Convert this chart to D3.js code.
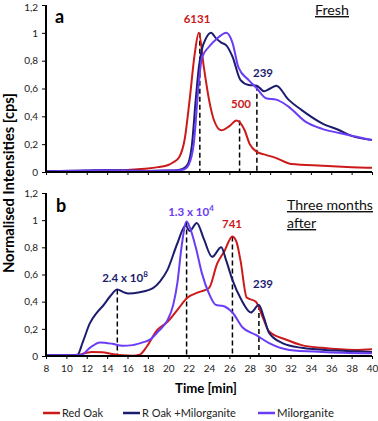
<!DOCTYPE html>
<html><head><meta charset="utf-8">
<script src="https://cdn.jsdelivr.net/npm/d3@7"></script>
<style>
body{margin:0;background:#fff;}
svg{display:block;font-family:Lato,"Open Sans",sans-serif;}
</style></head>
<body><svg id="c" width="378" height="421"></svg>
<script>
// ---- data ----
const xTicks = [8,10,12,14,16,18,20,22,24,26,28,30,32,34,36,38,40];
const yTicks = [0,0.2,0.4,0.6,0.8,1,1.2];
const seriesNames = ["Red Oak","R Oak +Milorganite","Milorganite"];

// Panel a (Fresh)
const redA_t = [8,10,12,14,16,17,18,19,20,20.5,21.1,21.6,22.1,22.6,23.0,23.5,24.0,24.5,25.2,26.0,26.7,27.5,28.0,28.7,29.5,30.6,32.1,35.1,38,40];
const redA_v = [0.005,0.005,0.008,0.01,0.015,0.02,0.025,0.035,0.05,0.07,0.11,0.23,0.52,0.85,1.0,0.75,0.52,0.37,0.30,0.33,0.37,0.30,0.20,0.145,0.125,0.10,0.057,0.045,0.035,0.03];
const navyA_t = [8,12,14,16,18,20,21,21.6,22.0,22.3,22.7,23.0,23.3,23.7,24.2,24.7,25.2,25.7,26.3,27.1,27.9,28.7,29.4,30.0,30.6,31.8,33.1,35.1,36.8,38.0,40];
const navyA_v = [0.005,0.01,0.015,0.01,0.008,0.01,0.015,0.03,0.07,0.18,0.52,0.75,0.88,0.96,1.0,0.96,0.93,0.91,0.83,0.66,0.625,0.62,0.58,0.60,0.62,0.52,0.445,0.35,0.30,0.26,0.23];
const purpA_t = [8,12,14,16,18,20,21,21.6,22.0,22.5,23.0,23.3,24.0,24.8,25.7,26.3,26.9,27.9,28.7,29.6,30.6,31.8,33.5,35.1,36.8,38,40];
const purpA_v = [0.005,0.01,0.012,0.01,0.008,0.01,0.012,0.02,0.05,0.2,0.64,0.82,0.90,0.96,1.0,0.93,0.75,0.66,0.60,0.53,0.52,0.47,0.36,0.31,0.28,0.26,0.23];

// Panel b (Three months after)
const redB_t = [8,11,11.8,12.5,13.5,14.5,15.5,16.5,17.2,17.9,18.9,19.9,20.9,21.9,23.0,24.0,24.8,25.5,26.3,26.7,27.1,27.7,28.6,29.2,29.9,31.6,33.1,35.1,38.4,40];
const redB_v = [0.005,0.005,0.02,0.03,0.028,0.015,0.005,0.002,0.01,0.07,0.19,0.25,0.34,0.43,0.47,0.50,0.68,0.77,0.88,0.84,0.70,0.43,0.40,0.30,0.18,0.12,0.08,0.06,0.045,0.05];
const navyB_t = [8,10,11.1,11.6,12.3,13.0,13.6,14.3,15.0,15.6,16.1,17.2,18.5,19.2,19.9,20.9,21.7,22.1,22.8,23.5,24.3,25.2,25.7,26.3,27.2,28.1,28.9,29.4,29.9,31.2,33.1,36.4,40];
const navyB_v = [0.005,0.005,0.01,0.1,0.24,0.32,0.37,0.44,0.49,0.47,0.46,0.47,0.50,0.55,0.63,0.83,0.96,0.92,0.98,0.86,0.73,0.80,0.70,0.56,0.41,0.32,0.375,0.28,0.17,0.095,0.06,0.04,0.03];
const purpB_t = [8,10,11.5,12.3,13.3,14.5,15.5,16.5,17.5,18.2,19.0,19.9,20.5,20.9,21.3,21.8,22.1,22.7,23.3,24.0,24.7,25.3,26.3,27.3,28.6,29.9,31.9,35.1,40];
const purpB_v = [0.005,0.005,0.01,0.06,0.10,0.09,0.075,0.08,0.10,0.12,0.18,0.26,0.38,0.54,0.80,0.99,0.95,0.80,0.61,0.46,0.375,0.37,0.32,0.21,0.155,0.095,0.045,0.03,0.02];

// peak markers [time, value]
const peaksA = [[23.1,1.0],[27.0,0.37],[28.7,0.62]];
const peaksB = [[15.0,0.49],[21.8,0.99],[26.3,0.88],[28.9,0.375]];

// ---- drawing ----
const colors = ["#cc1a1a","#1c1c6e","#6a3cf5"];
const svg = d3.select("#c");
const x = d3.scaleLinear().domain([8,40]).range([46,372]);
const yA = d3.scaleLinear().domain([0,1.2]).range([172,5]);
const yB = d3.scaleLinear().domain([0,1.2]).range([356,193]);
const fmt = d => d===0 ? "0" : (d===1 ? "1" : d3.format(".1f")(d).replace(".",","));

function fit(sel, w){
  const n = sel.node();
  const cur = parseFloat(sel.attr("font-size"));
  const len = n.getComputedTextLength();
  if(len>0) sel.attr("font-size", (cur*w/len).toFixed(2));
  return sel;
}

function panel(y, showX, series, peaks){
  const g = svg.append("g");
  peaks.forEach(p=>{
    g.append("line").attr("x1",x(p[0])).attr("x2",x(p[0]))
     .attr("y1",y(p[1])).attr("y2",y(0))
     .attr("stroke","#000").attr("stroke-width",1.5).attr("stroke-dasharray","5,3");
  });
  const line = d3.line().x(d=>x(d[0])).y(d=>y(d[1])).curve(d3.curveMonotoneX);
  series.forEach((s,i)=>{
    const data = s[0].map((t,k)=>[t,s[1][k]]);
    g.append("path").datum(data).attr("d",line).attr("fill","none")
     .attr("stroke",colors[i]).attr("stroke-width",2);
  });
  const ya = g.append("g").attr("transform",`translate(${x(8)},0)`)
    .call(d3.axisLeft(y).tickValues(yTicks).tickFormat(fmt).tickSize(4).tickPadding(4));
  const xa = g.append("g").attr("transform",`translate(0,${y(0)})`)
    .call(d3.axisBottom(x).tickValues(xTicks).tickSize(3).tickPadding(6).tickFormat(showX? d=>d : ()=>""));
  [ya,xa].forEach(a=>{
    a.select(".domain").attr("stroke","#000").attr("stroke-width",2);
    a.selectAll(".tick line").attr("stroke","#000").attr("stroke-width",1);
    a.selectAll("text").attr("font-size",10).attr("fill","#222").attr("font-family","Lato,sans-serif");
  });
  xa.select(".domain").attr("d",`M${x(8)},0H${x(40)}`);
  ya.select(".domain").attr("d",`M0,${y(0)}V${y(1.2)}`);
  // keep the topmost tick label inside the picture
  ya.selectAll(".tick text").filter(d=>d===1.2 && y(1.2)<8).attr("dy","0.5em");
}

panel(yA,false,[[redA_t,redA_v],[navyA_t,navyA_v],[purpA_t,purpA_v]],peaksA);
panel(yB,true,[[redB_t,redB_v],[navyB_t,navyB_v],[purpB_t,purpB_v]],peaksB);

// panel letters
svg.append("text").attr("x",55).attr("y",23).text("a").attr("font-size",18).attr("font-weight","bold");
svg.append("text").attr("x",56).attr("y",212).text("b").attr("font-size",18).attr("font-weight","bold");

// titles
function ulText(tx,ty,str,w){
  const t = svg.append("text").attr("x",tx).attr("y",ty).text(str)
   .attr("font-size",15).attr("fill","#111").attr("text-decoration","underline");
  return fit(t,w);
}
ulText(315,15,"Fresh",34);
const tm = ulText(287,210,"Three months",86);
svg.append("text").attr("x",287).attr("y",228).text("after")
   .attr("font-size",tm.attr("font-size")).attr("fill","#111").attr("text-decoration","underline");

// peak labels
function lab(tx,ty,str,col,sup){
  const t = svg.append("text").attr("x",tx).attr("y",ty).attr("text-anchor","middle")
   .attr("font-size",11.5).attr("font-weight","bold").attr("fill",col).text(str);
  if(sup){ t.append("tspan").attr("dy",-5).attr("font-size",8).text(sup); }
}
lab(197,23,"6131",colors[0]);
lab(241,108,"500",colors[0]);
lab(263,77,"239",colors[1]);
lab(125,282,"2.4 x 10",colors[1],"8");
lab(191,216,"1.3 x 10",colors[2],"4");
lab(232,228,"741",colors[0]);
lab(263,288,"239",colors[1]);

// axis titles
fit(svg.append("text").attr("transform","translate(14,183) rotate(-90)").attr("text-anchor","middle")
  .attr("font-size",13.5).attr("font-weight","bold").text("Normalised Intensities [cps]"),180);
fit(svg.append("text").attr("x",206).attr("y",393).attr("text-anchor","middle")
  .attr("font-size",13).attr("font-weight","bold").text("Time [min]"),62);

// legend
const legX = [43,123,258];
const legW = [41,94,57];
seriesNames.forEach((n,i)=>{
  svg.append("line").attr("x1",legX[i]).attr("x2",legX[i]+17).attr("y1",413).attr("y2",413)
    .attr("stroke",colors[i]).attr("stroke-width",2.5);
  fit(svg.append("text").attr("x",legX[i]+19).attr("y",417).attr("font-size",12).attr("fill","#222").text(n),legW[i]);
});
</script></body></html>
